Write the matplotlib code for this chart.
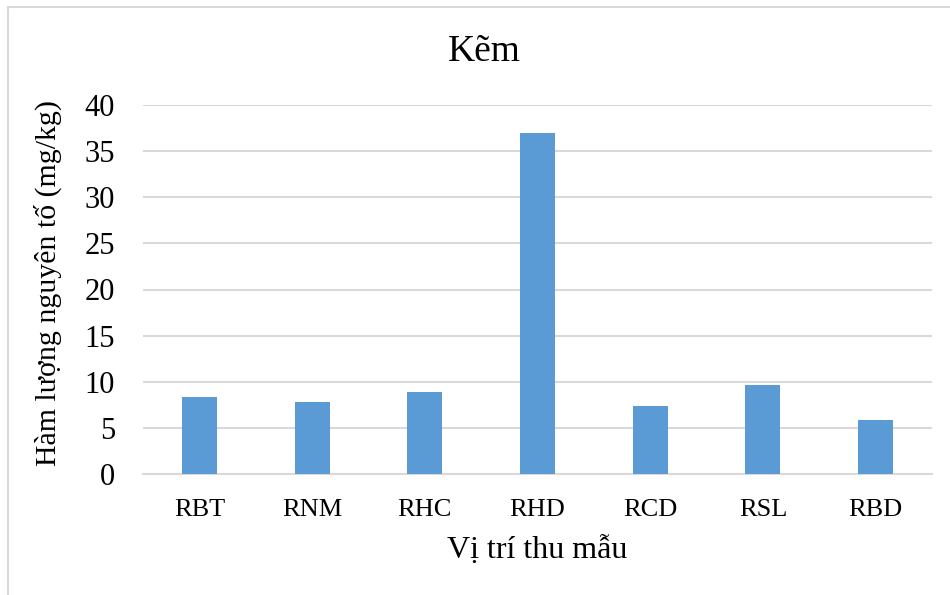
import matplotlib
matplotlib.use("Agg")
import matplotlib.pyplot as plt
from matplotlib.patches import Rectangle

categories = ["RBT", "RNM", "RHC", "RHD", "RCD", "RSL", "RBD"]
values = [8.4, 7.8, 8.9, 37.0, 7.4, 9.6, 5.9]
yticks = [0, 5, 10, 15, 20, 25, 30, 35, 40]

plt.rcParams['font.family'] = ['Liberation Serif', 'DejaVu Serif']

fig = plt.figure(figsize=(9.5, 5.95), dpi=100)
fig.patch.set_facecolor('white')
fig.patches.append(Rectangle((8/950, -0.1), 1.2, (1 - 7/595) + 0.1, transform=fig.transFigure,
                             fill=False, edgecolor='#D9D9D9', linewidth=1.5))

ax = fig.add_axes([143/950, 1 - 474/595, (932 - 143)/950, (474 - 105)/595])
x = list(range(len(categories)))
ax.bar(x, values, width=0.31, color='#5B9BD5', zorder=3)
ax.set_xlim(-0.5, len(categories) - 0.5)
ax.set_ylim(0, 40)
ax.set_yticks(yticks)
ax.set_xticks(x)
ax.set_xticklabels(categories)
ax.yaxis.grid(True, color='#D9D9D9', linewidth=1.5, zorder=0)
for s in ['top', 'right', 'left']:
    ax.spines[s].set_visible(False)
ax.spines['bottom'].set_color('#D9D9D9')
ax.spines['bottom'].set_linewidth(1.5)
ax.tick_params(axis='x', length=0, labelsize=19, pad=18)
ax.tick_params(axis='y', length=0, labelsize=22, pad=20)
fig.text(484/950, 1 - 52/595, "Kẽm", fontsize=27, ha='center', va='center')
fig.text(537/950, 1 - 550/595, "Vị trí thu mẫu", fontsize=23, ha='center', va='center')
fig.text(48/950, 1 - 283/595, "Hàm lượng nguyên tố (mg/kg)", fontsize=21.5,
         ha='center', va='center', rotation=90)

fig.savefig("out.png", dpi=100)
